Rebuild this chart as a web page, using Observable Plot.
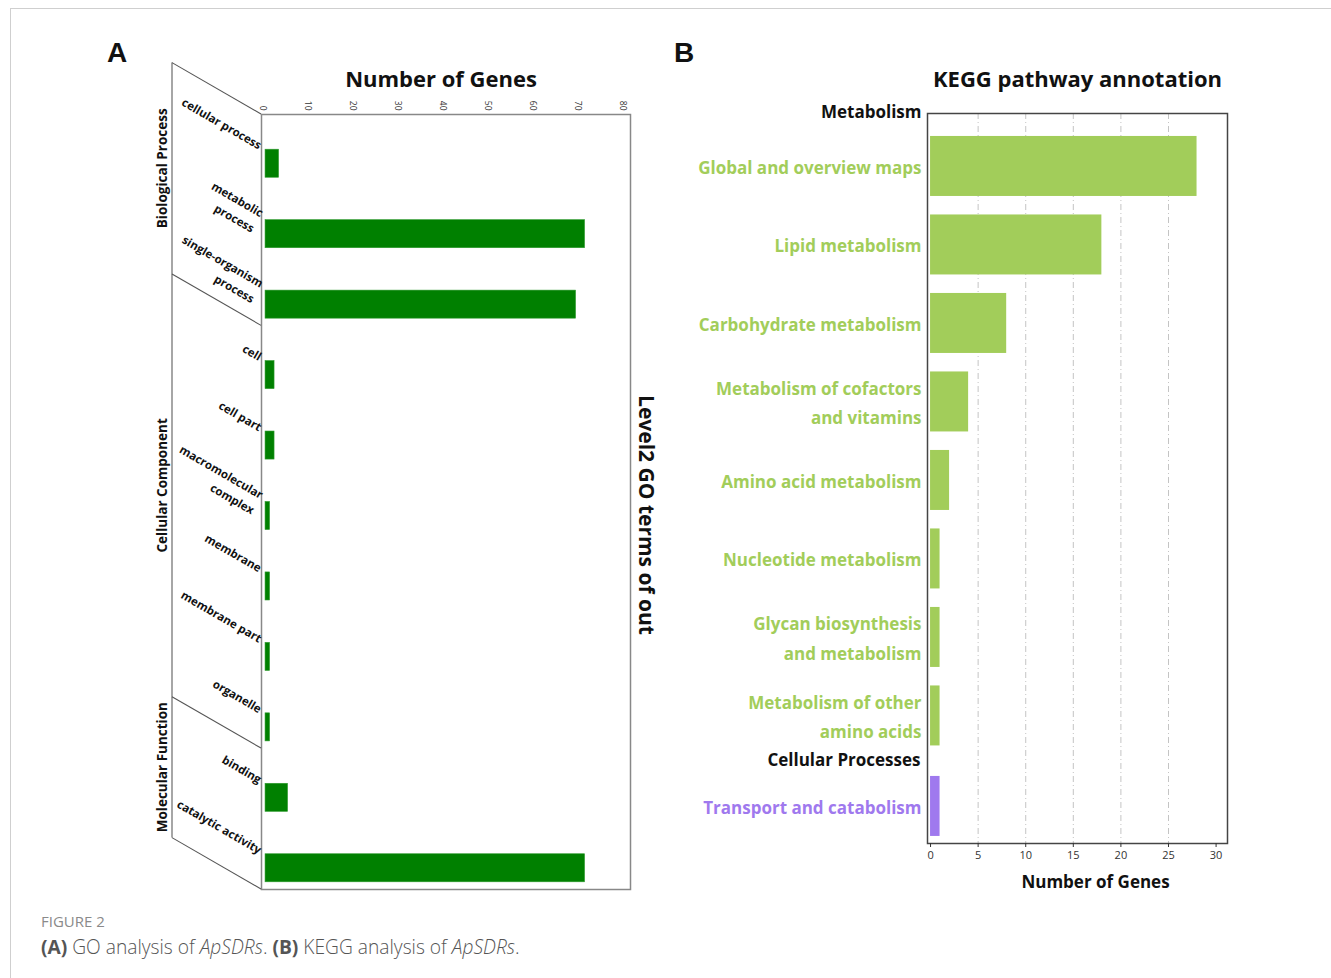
<!DOCTYPE html>
<html>
<head>
<meta charset="utf-8">
<script src="https://cdn.jsdelivr.net/npm/d3@7"></script>
<script src="https://cdn.jsdelivr.net/npm/@observablehq/plot@0.6"></script>
<style>
  html, body { margin: 0; padding: 0; background: #fff; }
  body { width: 1331px; height: 978px; position: relative; overflow: hidden; font-family: "Open Sans", sans-serif; }
  #border { position: absolute; left: 10px; top: 8px; right: 0; bottom: 0; border-top: 1px solid #cfcfcf; border-left: 1px solid #cfcfcf; }
  #chartA { position: absolute; left: 0; top: 0; }
  #chartB { position: absolute; left: 660px; top: 0; }
  .panel { position: absolute; font-family: "Liberation Sans Narrow", "Liberation Sans", sans-serif; font-weight: bold; font-size: 28px; line-height: 1; color: #111; }
  #cap1 { position: absolute; left: 41px; top: 911px; font-size: 15px; color: #8a8a8a; }
  #cap2 { position: absolute; left: 41px; top: 933px; font-size: 19.2px; color: #555; font-weight: 300; }
  #cap2 b { font-weight: 700; }
</style>
</head>
<body>
<div id="border"></div>
<div id="chartA"></div>
<div id="chartB"></div>
<div class="panel" style="left:107px;top:39px;">A</div>
<div class="panel" style="left:674px;top:39px;">B</div>
<div id="cap1">FIGURE 2</div>
<div id="cap2"><b>(A)</b> GO analysis of <i>ApSDRs</i>. <b>(B)</b> KEGG analysis of <i>ApSDRs</i>.</div>
<script>
// ---------- Panel A data (GO) ----------
const goTerms = ["cellular process", "metabolic process", "single-organism process", "cell", "cell part",
  "macromolecular complex", "membrane", "membrane part", "organelle", "binding", "catalytic activity"];
const goLabels = ["cellular process", "metabolic\nprocess", "single-organism\nprocess", "cell", "cell part",
  "macromolecular\ncomplex", "membrane", "membrane part", "organelle", "binding", "catalytic activity"];
const goCounts = [3, 71, 69, 2, 2, 1, 1, 1, 1, 5, 71];
const goGroupNames = ["Biological Process", "Cellular Component", "Molecular Function"];
const goGroupSizes = [3, 6, 2];
const goTicks = [0, 10, 20, 30, 40, 50, 60, 70, 80];

// ---------- Panel B data (KEGG) ----------
const keggPathways = ["Global and overview maps", "Lipid metabolism", "Carbohydrate metabolism",
  "Metabolism of cofactors and vitamins", "Amino acid metabolism", "Nucleotide metabolism",
  "Glycan biosynthesis and metabolism", "Metabolism of other amino acids", "Transport and catabolism"];
const keggLabels = ["Global and overview maps", "Lipid metabolism", "Carbohydrate metabolism",
  "Metabolism of cofactors\nand vitamins", "Amino acid metabolism", "Nucleotide metabolism",
  "Glycan biosynthesis\nand metabolism", "Metabolism of other\namino acids", "Transport and catabolism"];
const keggCounts = [28, 18, 8, 4, 2, 1, 1, 1, 1];
const keggClasses = ["Metabolism", "Metabolism", "Metabolism", "Metabolism", "Metabolism",
  "Metabolism", "Metabolism", "Metabolism", "Cellular Processes"];
const keggClassNames = ["Metabolism", "Cellular Processes"];
const keggTicks = [0, 5, 10, 15, 20, 25, 30];
const classColor = {"Metabolism": "#a2cd5a", "Cellular Processes": "#9f79ee"};

const goData = goTerms.map((t, i) => ({term: t, label: goLabels[i], count: goCounts[i]}));
const keggData = keggPathways.map((p, i) => ({pathway: p, label: keggLabels[i], count: keggCounts[i], cls: keggClasses[i]}));

// brackets for GO groups, drawn from the y band scale
function goBrackets(index, scales, values, dims) {
  const y = scales.y;
  const step = y(goTerms[1]) - y(goTerms[0]);
  const xR = dims.marginLeft;
  const xL = xR - 89;
  const drop = 89 * Math.tan(Math.PI / 6);
  const bounds = [];
  let k = 0;
  bounds.push(y(goTerms[0]));
  for (const n of goGroupSizes) { k += n; bounds.push(y(goTerms[k - 1]) + step); }
  const g = d3.create("svg:g").attr("fill", "none").attr("stroke", "#555").attr("stroke-width", 1.1);
  g.append("line").attr("x1", xL).attr("x2", xL).attr("y1", bounds[0] - drop).attr("y2", bounds[bounds.length - 1] - drop).attr("stroke", "#888").attr("stroke-width", 1.5);
  for (const b of bounds) {
    g.append("line").attr("x1", xL).attr("y1", b - drop).attr("x2", xR).attr("y2", b);
  }
  goGroupNames.forEach((name, i) => {
    const mid = (bounds[i] + bounds[i + 1]) / 2 - drop;
    g.append("text")
      .attr("transform", `translate(${xL - 5},${mid}) rotate(-90)`)
      .attr("text-anchor", "middle")
      .attr("fill", "#111").attr("stroke", "none")
      .attr("font-size", 13.5).attr("font-weight", 700)
      .text(name);
  });
  return g.node();
}

const chartA = Plot.plot({
  width: 680, height: 900,
  marginLeft: 261, marginRight: 50, marginTop: 114, marginBottom: 11,
  style: {fontFamily: "Open Sans, sans-serif", background: "transparent", overflow: "visible"},
  x: {domain: [-0.9, 81.1], axis: null},
  y: {domain: goTerms, padding: 0, round: false, axis: null},
  marks: [
    Plot.barX(goData, {x: "count", y: "term", fill: "#008000", stroke: "#2f9a2f", strokeWidth: 0.6, insetTop: 35.2, insetBottom: 7.2}),
    Plot.frame({stroke: "#888", strokeWidth: 1.5}),
    Plot.text(goTicks, {x: d => d, frameAnchor: "top", rotate: 90, textAnchor: "end", dy: -4, fontSize: 8.5, fill: "#333"}),
    Plot.text(goData.filter(d => !d.label.includes("\n")), {y: "term", text: "label", frameAnchor: "left", textAnchor: "end",
      rotate: 30, dx: -3, lineAnchor: "bottom", fontSize: 11.5, fontWeight: "bold", fill: "#111"}),
    Plot.text(goData.filter(d => d.label.includes("\n")), {y: "term", text: "label", frameAnchor: "left", textAnchor: "end",
      rotate: 30, dx: -3, lineAnchor: "middle", lineHeight: 1.55, fontSize: 11.5, fontWeight: "bold", fill: "#111"}),
    goBrackets,
    Plot.text(["Number of Genes"], {frameAnchor: "top", lineAnchor: "middle", dy: -35, dx: -5, fontSize: 22, fontWeight: "bold", fill: "#111"}),
    Plot.text(["Level2 GO terms of out"], {frameAnchor: "right", textAnchor: "middle", lineAnchor: "middle", rotate: 90, dx: 15, dy: 13, fontSize: 21, fontWeight: "bold", fill: "#111"})
  ]
});
document.getElementById("chartA").append(chartA);

const metab = keggData.filter(d => d.cls === "Metabolism");
const cellp = keggData.filter(d => d.cls !== "Metabolism");
const firstOf = c => keggPathways[keggClasses.indexOf(c)];

const chartB = Plot.plot({
  width: 600, height: 900,
  marginLeft: 267, marginRight: 33, marginTop: 113, marginBottom: 57,
  style: {fontFamily: "Open Sans, sans-serif", background: "transparent", overflow: "visible"},
  x: {domain: [-0.32, 31.2], axis: null},
  y: {domain: keggPathways, range: [126.7, 833.2], paddingInner: 0.2357, paddingOuter: 0.118, round: false, axis: null},
  marks: [
    Plot.gridX(keggTicks.filter(t => t > 0 && t < 30), {stroke: "#c4c4c4", strokeOpacity: 1, strokeDasharray: "6,3,1,3"}),
    Plot.barX(metab, {x: "count", y: "pathway", fill: d => classColor[d.cls]}),
    Plot.barX(cellp, {x: "count", y: "pathway", fill: d => classColor[d.cls], dy: 12}),
    Plot.text(metab, {y: "pathway", text: "label", frameAnchor: "left", textAnchor: "end", dx: -6, dy: -2,
      fill: d => classColor[d.cls], fontSize: 17, fontWeight: "bold", lineHeight: 1.75}),
    Plot.text(cellp, {y: "pathway", text: "label", frameAnchor: "left", textAnchor: "end", dx: -6, dy: 10,
      fill: d => classColor[d.cls], fontSize: 17, fontWeight: "bold", lineHeight: 1.75}),
    Plot.text([keggClassNames[0]], {y: d => firstOf(d), frameAnchor: "left", textAnchor: "end", dx: -6, dy: -54,
      fontSize: 17, fontWeight: "bold", fill: "#111"}),
    Plot.text([keggClassNames[1]], {y: d => firstOf(d), frameAnchor: "left", textAnchor: "end", dx: -7, dy: -34,
      fontSize: 17, fontWeight: "bold", fill: "#111"}),
    Plot.frame({stroke: "#444", strokeWidth: 1.5}),
    Plot.axisX({anchor: "bottom", ticks: keggTicks, tickSize: 4, tickPadding: 4, fontSize: 11, color: "#333", label: null}),
    Plot.text(["KEGG pathway annotation"], {frameAnchor: "top", lineAnchor: "middle", dy: -34, fontSize: 22, fontWeight: "bold", fill: "#111"}),
    Plot.text(["Number of Genes"], {frameAnchor: "bottom", lineAnchor: "middle", dy: 39, dx: 18, fontSize: 17, fontWeight: "bold", fill: "#111"})
  ]
});
document.getElementById("chartB").append(chartB);
</script>
</body>
</html>
